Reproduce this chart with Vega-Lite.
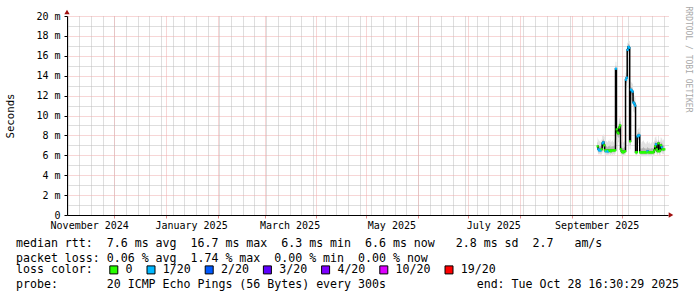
{
"$schema": "https://vega.github.io/schema/vega-lite/v6.json",
"width": 601, "height": 199,
"autosize": {"type": "none"},
"padding": {"left": 67, "top": 16, "right": 29, "bottom": 82},
"background": "white",
"config": {"view": {"stroke": null}, "font": "DejaVu Sans Mono",
 "axis": {"labelFont": "DejaVu Sans Mono", "labelFontSize": 10, "labelColor": "#000", "titleFont": "DejaVu Sans Mono", "titleFontWeight": "normal", "titleColor": "#000"}},
"title": {"text": ["median rtt:\u00a0\u00a07.6 ms avg\u00a0\u00a016.7 ms max\u00a0\u00a06.3 ms min\u00a0\u00a06.6 ms now\u00a0\u00a0\u00a02.8 ms sd\u00a0\u00a02.7\u00a0\u00a0\u00a0am/s", "packet loss: 0.06 % avg\u00a0\u00a01.74 % max\u00a0\u00a00.00 % min\u00a0\u00a00.00 % now"],
 "subtitle": "probe:\u00a0\u00a0\u00a0\u00a0\u00a0\u00a0\u00a020 ICMP Echo Pings (56 Bytes) every 300s\u00a0\u00a0\u00a0\u00a0\u00a0\u00a0\u00a0\u00a0\u00a0\u00a0\u00a0\u00a0\u00a0end: Tue Oct 28 16:30:29 2025",
 "subtitleFont": "DejaVu Sans Mono", "subtitleFontSize": 11.6, "subtitleColor": "#000", "subtitleFontWeight": "normal", "subtitlePadding": 14.6, "subtitleLineHeight": 14.6,
 "orient": "bottom", "anchor": "start", "frame": "group", "align": "left", "dx": -51, "offset": -38, "font": "DejaVu Sans Mono", "fontSize": 11.6, "fontWeight": "normal", "color": "#000", "lineHeight": 14.6},
"datasets": {"rtt": [
{"t":"2025-09-16T12:00","med":6.9,"lo":6.3,"q1":6.6,"q3":7.3,"hi":7.8,"loss":"0"},
{"t":"2025-09-17T00:00","med":6.6,"lo":6.1,"q1":6.3,"q3":7.0,"hi":7.6,"loss":"1/20"},
{"t":"2025-09-17T12:00","med":6.5,"lo":6.1,"q1":6.3,"q3":6.9,"hi":7.4,"loss":"1/20"},
{"t":"2025-09-18T00:00","med":6.5,"lo":6.1,"q1":6.3,"q3":6.9,"hi":7.5,"loss":"1/20"},
{"t":"2025-09-18T12:00","med":6.5,"lo":6.0,"q1":6.3,"q3":6.9,"hi":7.3,"loss":"1/20"},
{"t":"2025-09-19T00:00","med":6.6,"lo":6.1,"q1":6.4,"q3":7.0,"hi":7.6,"loss":"0"},
{"t":"2025-09-19T12:00","med":7.2,"lo":6.3,"q1":6.7,"q3":7.5,"hi":8.0,"loss":"1/20"},
{"t":"2025-09-20T00:00","med":7.3,"lo":6.4,"q1":6.8,"q3":7.6,"hi":8.1,"loss":"1/20"},
{"t":"2025-09-20T12:00","med":7.0,"lo":6.2,"q1":6.6,"q3":7.4,"hi":7.9,"loss":"0"},
{"t":"2025-09-21T00:00","med":6.5,"lo":6.0,"q1":6.3,"q3":6.9,"hi":7.5,"loss":"0"},
{"t":"2025-09-21T12:00","med":6.4,"lo":6.0,"q1":6.2,"q3":6.9,"hi":7.4,"loss":"1/20"},
{"t":"2025-09-22T00:00","med":6.5,"lo":6.0,"q1":6.3,"q3":6.9,"hi":7.4,"loss":"0"},
{"t":"2025-09-22T12:00","med":6.4,"lo":6.0,"q1":6.2,"q3":6.8,"hi":7.3,"loss":"1/20"},
{"t":"2025-09-23T00:00","med":6.4,"lo":6.0,"q1":6.2,"q3":6.9,"hi":7.5,"loss":"1/20"},
{"t":"2025-09-23T12:00","med":6.5,"lo":6.1,"q1":6.3,"q3":6.9,"hi":7.4,"loss":"0"},
{"t":"2025-09-24T00:00","med":6.5,"lo":6.0,"q1":6.3,"q3":7.0,"hi":7.6,"loss":"0"},
{"t":"2025-09-24T12:00","med":6.4,"lo":6.0,"q1":6.2,"q3":6.8,"hi":7.3,"loss":"0"},
{"t":"2025-09-25T00:00","med":6.5,"lo":6.1,"q1":6.3,"q3":6.9,"hi":7.4,"loss":"0"},
{"t":"2025-09-25T12:00","med":6.5,"lo":6.0,"q1":6.3,"q3":6.9,"hi":7.5,"loss":"0"},
{"t":"2025-09-26T00:00","med":6.5,"lo":6.1,"q1":6.3,"q3":6.9,"hi":7.3,"loss":"0"},
{"t":"2025-09-26T12:00","med":6.5,"lo":6.0,"q1":6.3,"q3":7.0,"hi":7.6,"loss":"0"},
{"t":"2025-09-27T00:00","med":6.5,"lo":6.1,"q1":6.3,"q3":6.9,"hi":7.4,"loss":"0"},
{"t":"2025-09-27T12:00","med":14.7,"lo":13.6,"q1":14.2,"q3":15.0,"hi":15.4,"loss":"1/20"},
{"t":"2025-09-28T00:00","med":8.6,"lo":7.6,"q1":8.1,"q3":9.0,"hi":9.5,"loss":"0"},
{"t":"2025-09-28T12:00","med":8.3,"lo":7.4,"q1":7.9,"q3":8.7,"hi":9.2,"loss":"0"},
{"t":"2025-09-29T00:00","med":8.2,"lo":7.3,"q1":7.8,"q3":8.6,"hi":9.1,"loss":"0"},
{"t":"2025-09-29T12:00","med":8.8,"lo":7.8,"q1":8.4,"q3":9.2,"hi":9.7,"loss":"0"},
{"t":"2025-09-30T00:00","med":9.0,"lo":8.0,"q1":8.6,"q3":9.4,"hi":9.9,"loss":"0"},
{"t":"2025-09-30T12:00","med":6.6,"lo":6.1,"q1":6.4,"q3":7.0,"hi":7.5,"loss":"0"},
{"t":"2025-10-01T00:00","med":6.4,"lo":6.0,"q1":6.2,"q3":6.8,"hi":7.3,"loss":"0"},
{"t":"2025-10-01T12:00","med":6.3,"lo":5.9,"q1":6.1,"q3":6.7,"hi":7.2,"loss":"0"},
{"t":"2025-10-02T00:00","med":6.3,"lo":5.9,"q1":6.1,"q3":6.7,"hi":7.3,"loss":"0"},
{"t":"2025-10-02T12:00","med":6.4,"lo":6.0,"q1":6.2,"q3":6.8,"hi":7.4,"loss":"0"},
{"t":"2025-10-03T00:00","med":6.4,"lo":6.0,"q1":6.2,"q3":6.8,"hi":7.2,"loss":"0"},
{"t":"2025-10-03T12:00","med":13.6,"lo":12.6,"q1":13.1,"q3":13.9,"hi":14.3,"loss":"1/20"},
{"t":"2025-10-04T00:00","med":13.8,"lo":12.8,"q1":13.3,"q3":14.1,"hi":14.6,"loss":"1/20"},
{"t":"2025-10-04T12:00","med":16.6,"lo":15.5,"q1":16.1,"q3":16.9,"hi":17.3,"loss":"1/20"},
{"t":"2025-10-05T00:00","med":16.9,"lo":15.8,"q1":16.4,"q3":17.2,"hi":17.6,"loss":"1/20"},
{"t":"2025-10-05T12:00","med":16.8,"lo":15.6,"q1":16.2,"q3":17.1,"hi":17.5,"loss":"1/20"},
{"t":"2025-10-06T00:00","med":7.4,"lo":6.6,"q1":7.0,"q3":7.8,"hi":8.3,"loss":"0"},
{"t":"2025-10-06T12:00","med":12.6,"lo":11.6,"q1":12.2,"q3":12.9,"hi":13.4,"loss":"1/20"},
{"t":"2025-10-07T00:00","med":12.5,"lo":11.5,"q1":12.1,"q3":12.8,"hi":13.3,"loss":"1/20"},
{"t":"2025-10-07T12:00","med":12.4,"lo":11.4,"q1":12.0,"q3":12.7,"hi":13.2,"loss":"1/20"},
{"t":"2025-10-08T00:00","med":11.3,"lo":10.4,"q1":10.9,"q3":11.6,"hi":12.1,"loss":"1/20"},
{"t":"2025-10-08T12:00","med":11.2,"lo":10.3,"q1":10.8,"q3":11.5,"hi":12.0,"loss":"1/20"},
{"t":"2025-10-09T00:00","med":11.0,"lo":10.2,"q1":10.6,"q3":11.3,"hi":11.8,"loss":"1/20"},
{"t":"2025-10-09T12:00","med":6.3,"lo":5.9,"q1":6.1,"q3":6.7,"hi":7.2,"loss":"0"},
{"t":"2025-10-10T00:00","med":6.3,"lo":5.9,"q1":6.1,"q3":6.7,"hi":7.3,"loss":"0"},
{"t":"2025-10-10T12:00","med":7.9,"lo":7.1,"q1":7.5,"q3":8.2,"hi":8.6,"loss":"1/20"},
{"t":"2025-10-11T00:00","med":8.0,"lo":7.2,"q1":7.6,"q3":8.3,"hi":8.7,"loss":"1/20"},
{"t":"2025-10-11T12:00","med":8.0,"lo":7.1,"q1":7.6,"q3":8.3,"hi":8.8,"loss":"1/20"},
{"t":"2025-10-12T00:00","med":6.3,"lo":5.9,"q1":6.1,"q3":6.7,"hi":7.2,"loss":"0"},
{"t":"2025-10-12T12:00","med":6.3,"lo":5.9,"q1":6.1,"q3":6.6,"hi":7.1,"loss":"0"},
{"t":"2025-10-13T00:00","med":6.3,"lo":5.9,"q1":6.1,"q3":6.7,"hi":7.3,"loss":"0"},
{"t":"2025-10-13T12:00","med":6.3,"lo":5.9,"q1":6.1,"q3":6.7,"hi":7.4,"loss":"0"},
{"t":"2025-10-14T00:00","med":6.3,"lo":5.9,"q1":6.1,"q3":6.8,"hi":7.5,"loss":"0"},
{"t":"2025-10-14T12:00","med":6.3,"lo":5.9,"q1":6.1,"q3":6.7,"hi":7.3,"loss":"0"},
{"t":"2025-10-15T00:00","med":6.3,"lo":5.9,"q1":6.1,"q3":6.7,"hi":7.2,"loss":"0"},
{"t":"2025-10-15T12:00","med":6.3,"lo":5.9,"q1":6.1,"q3":6.6,"hi":7.1,"loss":"0"},
{"t":"2025-10-16T00:00","med":6.3,"lo":5.9,"q1":6.1,"q3":6.7,"hi":7.3,"loss":"0"},
{"t":"2025-10-16T12:00","med":6.4,"lo":6.0,"q1":6.2,"q3":6.8,"hi":7.4,"loss":"1/20"},
{"t":"2025-10-17T00:00","med":6.3,"lo":5.9,"q1":6.1,"q3":6.7,"hi":7.2,"loss":"0"},
{"t":"2025-10-17T12:00","med":6.3,"lo":5.9,"q1":6.1,"q3":6.7,"hi":7.3,"loss":"0"},
{"t":"2025-10-18T00:00","med":6.3,"lo":5.9,"q1":6.1,"q3":6.6,"hi":7.1,"loss":"0"},
{"t":"2025-10-18T12:00","med":6.3,"lo":5.9,"q1":6.1,"q3":6.7,"hi":7.2,"loss":"0"},
{"t":"2025-10-19T00:00","med":6.3,"lo":5.9,"q1":6.1,"q3":6.7,"hi":7.3,"loss":"0"},
{"t":"2025-10-19T12:00","med":6.3,"lo":5.9,"q1":6.1,"q3":6.7,"hi":7.2,"loss":"0"},
{"t":"2025-10-20T00:00","med":6.3,"lo":5.9,"q1":6.1,"q3":6.7,"hi":7.3,"loss":"0"},
{"t":"2025-10-20T12:00","med":6.5,"lo":6.0,"q1":6.3,"q3":6.9,"hi":7.5,"loss":"0"},
{"t":"2025-10-21T00:00","med":6.9,"lo":6.2,"q1":6.6,"q3":7.3,"hi":7.8,"loss":"0"},
{"t":"2025-10-21T12:00","med":7.1,"lo":6.3,"q1":6.7,"q3":7.4,"hi":7.9,"loss":"1/20"},
{"t":"2025-10-22T00:00","med":6.6,"lo":6.1,"q1":6.4,"q3":7.0,"hi":7.6,"loss":"0"},
{"t":"2025-10-22T12:00","med":6.4,"lo":6.0,"q1":6.2,"q3":6.9,"hi":7.4,"loss":"0"},
{"t":"2025-10-23T00:00","med":7.2,"lo":6.3,"q1":6.8,"q3":7.5,"hi":8.0,"loss":"0"},
{"t":"2025-10-23T12:00","med":6.4,"lo":6.0,"q1":6.2,"q3":6.8,"hi":7.4,"loss":"0"},
{"t":"2025-10-24T00:00","med":6.5,"lo":6.0,"q1":6.3,"q3":6.9,"hi":7.5,"loss":"0"},
{"t":"2025-10-24T12:00","med":7.0,"lo":6.3,"q1":6.6,"q3":7.3,"hi":7.8,"loss":"0"},
{"t":"2025-10-25T00:00","med":6.8,"lo":6.2,"q1":6.5,"q3":7.2,"hi":7.7,"loss":"1/20"},
{"t":"2025-10-25T12:00","med":6.6,"lo":6.1,"q1":6.4,"q3":7.0,"hi":7.5,"loss":"0"},
{"t":"2025-10-26T00:00","med":6.6,"lo":6.1,"q1":6.4,"q3":7.0,"hi":7.6,"loss":"0"},
{"t":"2025-10-26T12:00","med":6.6,"lo":6.1,"q1":6.4,"q3":7.0,"hi":7.5,"loss":"0"}
]},
"layer": [
 {"data": {"name": "rtt"},
  "mark": {"type": "area", "interpolate": "step", "color": "#e2e2e2"},
  "encoding": {
   "x": {"field": "t", "type": "temporal", "scale": {"domain": [{"year": 2024, "month": 11, "date": 2, "hours": 16, "minutes": 30}, {"year": 2025, "month": 10, "date": 28, "hours": 16, "minutes": 30}]},
    "axis": {"orient": "bottom", "grid": true, "gridColor": "#bdbdbd", "gridDash": [1, 1], "gridWidth": 1, "domain": false, "ticks": false, "labels": false, "title": null, "tickCount": {"interval": "week", "step": 1}}},
   "y": {"field": "lo", "type": "quantitative", "scale": {"domain": [0, 20], "nice": false},
    "axis": {"orient": "right", "values": [1, 3, 5, 7, 9, 11, 13, 15, 17, 19], "grid": true, "gridColor": "#bdbdbd", "gridDash": [1, 1], "domain": false, "ticks": false, "labels": false,
     "title": "RRDTOOL / TOBI OETIKER", "titleAngle": 90, "titleX": 19, "titleY": 43, "titleAlign": "center", "titleBaseline": "middle", "titleFontSize": 8, "titleColor": "#a8a8a8"}},
   "y2": {"field": "hi"}
  }},
 {"data": {"name": "rtt"},
  "mark": {"type": "area", "interpolate": "step", "color": "#b4b4b4"},
  "encoding": {
   "x": {"field": "t", "type": "temporal", "scale": {"domain": [{"year": 2024, "month": 11, "date": 2, "hours": 16, "minutes": 30}, {"year": 2025, "month": 10, "date": 28, "hours": 16, "minutes": 30}]},
    "axis": {"orient": "bottom", "grid": true, "gridColor": "#eeacac", "gridDash": [1, 1], "gridWidth": 1, "domain": false, "ticks": true, "tickColor": "#e08a8a", "tickSize": 3, "labels": false, "title": null, "tickCount": {"interval": "month", "step": 1}}},
   "y": {"field": "q1", "type": "quantitative", "scale": {"domain": [0, 20], "nice": false},
    "axis": {"orient": "left", "values": [0, 2, 4, 6, 8, 10, 12, 14, 16, 18, 20], "grid": true, "gridColor": "#eeacac", "gridDash": [1, 1], "domain": true, "domainColor": "#000", "ticks": true, "tickColor": "#000", "tickSize": 3,
     "labelExpr": "datum.value == 0 ? '0' : datum.value + ' m'", "labelPadding": 4, "labelFontSize": 10,
     "title": "Seconds", "titleFontSize": 10.7, "titleX": -57, "titleY": 99.5, "titleAlign": "center", "titleBaseline": "middle", "titleAngle": -90}},
   "y2": {"field": "q3"}
  }},
 {"data": {"name": "rtt"},
  "mark": {"type": "line", "interpolate": "step", "color": "#000", "strokeWidth": 1.5},
  "encoding": {
   "x": {"field": "t", "type": "temporal", "scale": {"domain": [{"year": 2024, "month": 11, "date": 2, "hours": 16, "minutes": 30}, {"year": 2025, "month": 10, "date": 28, "hours": 16, "minutes": 30}]},
    "axis": {"orient": "bottom", "values": [{"year": 2024, "month": 11, "date": 16}, {"year": 2025, "month": 1, "date": 16}, {"year": 2025, "month": 3, "date": 16}, {"year": 2025, "month": 5, "date": 16}, {"year": 2025, "month": 7, "date": 16}, {"year": 2025, "month": 9, "date": 16}],
     "format": "%B %Y", "formatType": "time", "grid": false, "ticks": false, "domain": true, "domainColor": "#000", "labelPadding": 5, "labelFontSize": 10, "labelOverlap": false, "labelFlush": false, "title": null}},
   "y": {"field": "med", "type": "quantitative", "scale": {"domain": [0, 20], "nice": false}, "axis": null}
  }},
 {"data": {"name": "rtt"},
  "mark": {"type": "tick", "orient": "horizontal", "size": 2.2, "thickness": 2.2, "opacity": 1},
  "encoding": {
   "x": {"field": "t", "type": "temporal", "scale": {"domain": [{"year": 2024, "month": 11, "date": 2, "hours": 16, "minutes": 30}, {"year": 2025, "month": 10, "date": 28, "hours": 16, "minutes": 30}]}, "axis": null},
   "y": {"field": "med", "type": "quantitative", "scale": {"domain": [0, 20], "nice": false}, "axis": null},
   "color": {"field": "loss", "type": "nominal",
    "scale": {"domain": ["0", "1/20", "2/20", "3/20", "4/20", "10/20", "19/20"], "range": ["#26ff00", "#00b8ff", "#0059ff", "#5e00ff", "#7e00ff", "#dd00ff", "#ff0000"]},
    "legend": {"orient": "none", "legendX": -51, "legendY": 248, "direction": "horizontal", "title": "loss color:", "titleOrient": "left", "titleFont": "DejaVu Sans Mono", "titleFontSize": 11.6, "titleFontWeight": "normal", "titleColor": "#000", "titlePadding": 15,
     "labelFont": "DejaVu Sans Mono", "labelFontSize": 11.6, "labelColor": "#000", "symbolType": "square", "symbolSize": 64, "symbolStrokeColor": "#000", "symbolStrokeWidth": 1, "symbolOpacity": 1, "labelOffset": 6, "columnPadding": 11.2,
     "encode": {"symbols": {"update": {"stroke": {"value": "#000"}, "strokeWidth": {"value": 1}}}}}}
  }},
 {"data": {"values": [{"t": "2025-10-28T16:30", "v": 0}]},
  "mark": {"type": "point", "shape": "triangle-right", "filled": true, "color": "#a01010", "size": 28, "xOffset": 3, "opacity": 1},
  "encoding": {
   "x": {"field": "t", "type": "temporal", "scale": {"domain": [{"year": 2024, "month": 11, "date": 2, "hours": 16, "minutes": 30}, {"year": 2025, "month": 10, "date": 28, "hours": 16, "minutes": 30}]}, "axis": null},
   "y": {"field": "v", "type": "quantitative", "scale": {"domain": [0, 20], "nice": false}, "axis": null}
  }},
 {"data": {"values": [{"t": "2024-11-02T16:30", "v": 20}]},
  "mark": {"type": "point", "shape": "triangle-up", "filled": true, "color": "#a01010", "size": 28, "yOffset": -4, "opacity": 1},
  "encoding": {
   "x": {"field": "t", "type": "temporal", "scale": {"domain": [{"year": 2024, "month": 11, "date": 2, "hours": 16, "minutes": 30}, {"year": 2025, "month": 10, "date": 28, "hours": 16, "minutes": 30}]}, "axis": null},
   "y": {"field": "v", "type": "quantitative", "scale": {"domain": [0, 20], "nice": false}, "axis": null}
  }}
],
"resolve": {"axis": {"x": "independent", "y": "independent"}}
}
